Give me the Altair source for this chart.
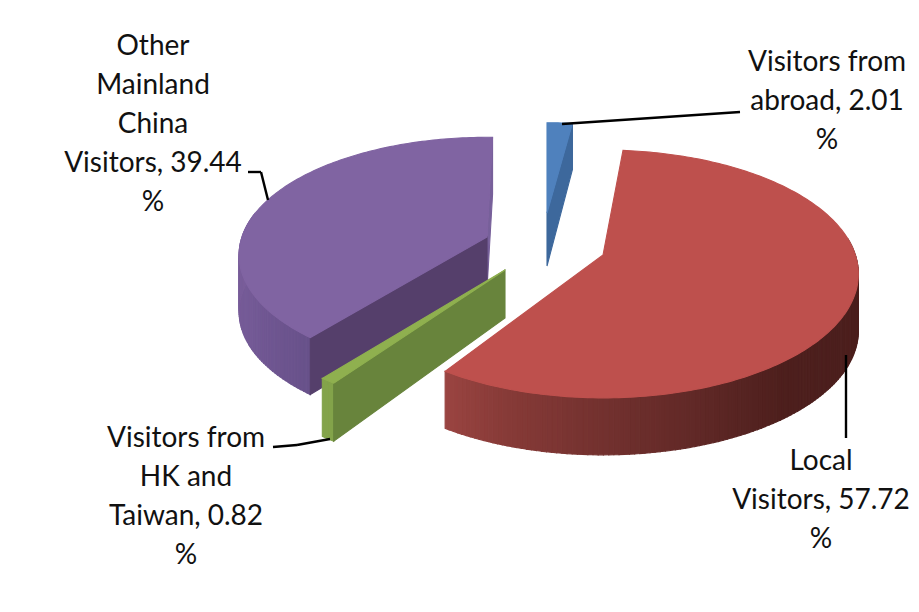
import math
import altair as alt
import pandas as pd

# ---- values ----
categories = ["Visitors from abroad", "Local Visitors", "Visitors from HK and Taiwan", "Other Mainland China Visitors"]
shares = [2.01, 57.72, 0.82, 39.44]
label_lines = [
    "Visitors from\nabroad, 2.01\n%",
    "Local\nVisitors, 57.72\n%",
    "Visitors from\nHK and\nTaiwan, 0.82\n%",
    "Other\nMainland\nChina\nVisitors, 39.44\n%",
]

# ---- layout of the tilted pie (picture pixels) ----
W, H = 903, 596
OFF = 8
RX, KY, PERSP = 245.0, 121.0, 0.153
SLICES = {
    0: dict(ax=547, ay=213, sx=0.95, sy=0.86, d=46, da=53, rot=0.0, top="#4F81BD", cut="#3D689C",
            rim=[(0, "#3D689C"), (1, "#3D689C")]),
    1: dict(ax=603, ay=255, sx=1.03, sy=1.0, d=57, da=57, rot=-2.0, top="#BE504D", cut="#7A3331",
            rim=[(0.0, "#4A1E1C"), (0.45, "#4D1F1D"), (0.7, "#6C2E2C"), (0.9, "#883B38"), (1.0, "#9A4441")]),
    2: dict(ax=505, ay=270, sx=1.065, sy=1.0, d=58, da=48, rot=0.0, top="#8FB04F", cut="#68843C",
            rim=[(0, "#83A34A"), (1, "#83A34A")]),
    3: dict(ax=487, ay=237, sx=1.0, sy=0.95, d=57, da=52, rot=1.5, top="#8064A2", cut="#553F6B",
            rim=[(0, "#68518A"), (0.4, "#745A96"), (1, "#7A5E9B")]),
}


def hex2rgb(h):
    return tuple(int(h[i:i + 2], 16) for i in (1, 3, 5))


def ramp(stops, t):
    for (t0, c0), (t1, c1) in zip(stops, stops[1:]):
        if t <= t1:
            f = (t - t0) / (t1 - t0)
            a, b = hex2rgb(c0), hex2rgb(c1)
            return "#%02x%02x%02x" % tuple(round(x + (y - x) * f) for x, y in zip(a, b))
    return stops[-1][1]


def rim_pt(sl, deg, depth=0.0):
    th = math.radians(deg + sl["rot"])
    c = math.cos(th)
    p = 1.0 / (1 + PERSP * c)
    return (sl["ax"] + sl["sx"] * RX * math.sin(th) * p - OFF,
            sl["ay"] - sl["sy"] * KY * c * p + depth - OFF)


def apex(sl, depth=0.0):
    return (sl["ax"] - OFF, sl["ay"] + depth - OFF)


def feat(ring, colour):
    pts = [list(p) for p in ring]
    pts.append(pts[0])
    return {"type": "Feature", "properties": {"c": colour},
            "geometry": {"type": "Polygon", "coordinates": [pts]}}


# Slice angles follow directly from the shares, clockwise from the back of the pie.
spans = []
start = 0.0
for v in shares:
    end = start + v / sum(shares) * 360
    spans.append((start, end))
    start = end

faces = {}
for i, (a0, a1) in enumerate(spans):
    sl = SLICES[i]
    fs = []
    n = max(int(a1 - a0), 2)
    angs = [a0 + (a1 - a0) * k / n for k in range(n + 1)]
    # outer wall, only the part that faces the viewer
    for k in range(n):
        mid = (angs[k] + angs[k + 1]) / 2
        if i in (1, 3) and 85 < mid < 280 or i == 2:
            lo, hi = (85, 215) if i == 1 else (218, 280)
            t = min(max((mid - lo) / (hi - lo), 0), 1)
            col = ramp(sl["rim"], t)
            fs.append(feat([rim_pt(sl, angs[k]), rim_pt(sl, angs[k + 1]),
                            rim_pt(sl, angs[k + 1], sl["d"]), rim_pt(sl, angs[k], sl["d"])], col))
    # flat cut faces that face the viewer
    if i == 0:
        fs.append(feat([apex(sl), rim_pt(sl, a1), rim_pt(sl, a1, sl["d"]), apex(sl, sl["da"])], sl["cut"]))
    if i == 3:
        fs.append(feat([apex(sl), rim_pt(sl, a1), rim_pt(sl, a1, sl["d"]), apex(sl, sl["da"])], "#77609A"))
    if i in (2, 3):
        fs.append(feat([apex(sl), rim_pt(sl, a0), rim_pt(sl, a0, sl["d"]), apex(sl, sl["da"])], sl["cut"]))
    # top face
    fs.append(feat([apex(sl)] + [rim_pt(sl, a) for a in angs], sl["top"]))
    faces[i] = fs

frame = feat([(0, 0), (W, 0), (W, H), (0, H)], "transparent")
features = [frame] + faces[0] + faces[3] + faces[2] + faces[1]

pie = alt.Chart(alt.InlineData(values=features, format=alt.JsonDataFormat(type="json"))).mark_geoshape(
    strokeWidth=1.1
).encode(
    fill=alt.Fill("properties.c:N", scale=None),
    stroke=alt.Stroke("properties.c:N", scale=None),
).project(type="identity", scale=1, translate=[0, 0])

x_scale = alt.Scale(domain=[0, W], range=[0, W])
y_scale = alt.Scale(domain=[0, H], range=[0, H])

# ---- leader lines ----
leaders = [
    [(562, 124), (740, 112)],
    [(846, 355), (846, 438)],
    [(273, 447), (297, 445), (330, 439)],
    [(248, 172), (261, 172), (268, 200)],
]
seg_rows = []
for line in leaders:
    for (x0, y0), (x1, y1) in zip(line, line[1:]):
        seg_rows.append({"x": x0 - OFF, "y": y0 - OFF, "x2": x1 - OFF, "y2": y1 - OFF})
rules = alt.Chart(pd.DataFrame(seg_rows)).mark_rule(color="#000000", strokeWidth=2.4).encode(
    x=alt.X("x:Q", scale=x_scale, axis=None), y=alt.Y("y:Q", scale=y_scale, axis=None),
    x2="x2:Q", y2="y2:Q",
)

# ---- labels ----
label_x = [827, 821, 186, 153]
label_y = [63, 462, 439, 47]
rows = [{"x": x - OFF, "y": y - OFF, "label": t, "category": c}
        for x, y, t, c in zip(label_x, label_y, label_lines, categories)]
labels = alt.Chart(pd.DataFrame(rows)).mark_text(
    font="Lato", fontSize=28, lineBreak="\n", lineHeight=39, align="center", baseline="middle", color="#111111"
).encode(
    x=alt.X("x:Q", scale=x_scale, axis=None), y=alt.Y("y:Q", scale=y_scale, axis=None),
    text="label:N",
)

chart = alt.layer(pie, rules, labels).properties(
    width=W, height=H, padding=0, autosize=alt.AutoSizeParams(type="none")
).configure_view(stroke=None)

chart.save("out.html", embed_options={"renderer": "svg", "actions": False})
